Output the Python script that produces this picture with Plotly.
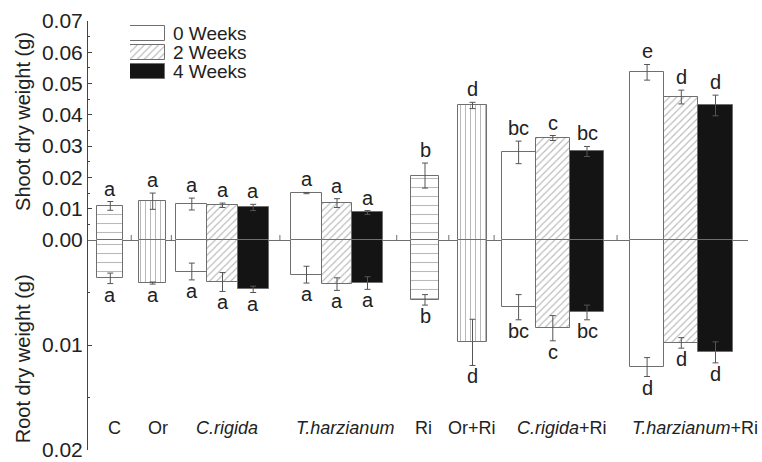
import plotly.graph_objects as go

# ---------------- data ----------------
groups = ["C", "Or", "C.rigida", "T.harzianum", "Ri", "Or+Ri", "C.rigida+Ri", "T.harzianum+Ri"]
group_labels = ["C", "Or", "<i>C.rigida</i>", "<i>T.harzianum</i>", "Ri", "Or+Ri",
                "<i>C.rigida</i>+Ri", "<i>T.harzianum</i>+Ri"]

bar_group = [0, 1, 2, 2, 2, 3, 3, 3, 4, 5, 6, 6, 6, 7, 7, 7]
bar_style = ["h", "v", "0", "2", "4", "0", "2", "4", "h", "v", "0", "2", "4", "0", "2", "4"]

shoot_mean = [0.0109, 0.0124, 0.0115, 0.0111, 0.0104, 0.0150, 0.0118, 0.0088,
              0.0206, 0.0430, 0.0280, 0.0326, 0.0283, 0.0536, 0.0457, 0.0430]
shoot_err = [0.0014, 0.0026, 0.0019, 0.0007, 0.0010, 0.0002, 0.0014, 0.0006,
             0.0040, 0.0010, 0.0036, 0.0008, 0.0016, 0.0025, 0.0022, 0.0033]
shoot_letter = ["a", "a", "a", "a", "a", "a", "a", "a", "b", "d", "bc", "c", "bc", "e", "d", "d"]

root_mean = [0.00365, 0.0041, 0.0030, 0.0040, 0.0047, 0.0033, 0.0042, 0.0041,
             0.0057, 0.00975, 0.0064, 0.0084, 0.0069, 0.0121, 0.0098, 0.0107]
root_err = [0.0005, 0.0001, 0.0008, 0.0009, 0.0003, 0.0008, 0.0006, 0.0006,
            0.0005, 0.0022, 0.0012, 0.0012, 0.0007, 0.0009, 0.0005, 0.0010]
root_letter = ["a", "a", "a", "a", "a", "a", "a", "a", "b", "d", "bc", "c", "bc", "d", "d", "d"]

legend_names = ["0 Weeks", "2 Weeks", "4 Weeks"]
legend_styles = ["0", "2", "4"]

shoot_ticks = [0.00, 0.01, 0.02, 0.03, 0.04, 0.05, 0.06, 0.07]
root_ticks = [0.01, 0.02]

# ---------------- layout constants ----------------
group_center = [22.3, 64.7, 134.5, 249.0, 337.0, 384.5, 464.8, 593.3]
group_bar_width = [26, 27, 30.7, 30.5, 28.6, 28.4, 34.2, 34.2]
label_shift = [4, 5, 4, 8, -2, -1, 9, 14]

FONT = "Liberation Sans, Arial, Helvetica, sans-serif"
EDGE = "#6f6f6f"
HATCH = "#747474"

styles = {
    "h": dict(color="white", pattern=dict(shape="-", fgcolor=HATCH, bgcolor="white", size=9, solidity=0.12)),
    "v": dict(color="white", pattern=dict(shape="|", fgcolor=HATCH, bgcolor="white", size=5, solidity=0.2)),
    "0": dict(color="white"),
    "2": dict(color="white", pattern=dict(shape="/", fgcolor=HATCH, bgcolor="white", size=5, solidity=0.22)),
    "4": dict(color="#141414"),
}

# compute bar positions from group layout
counts = [bar_group.count(g) for g in range(len(groups))]
bar_x, bar_w = [], []
seen = [0] * len(groups)
for g in bar_group:
    n = counts[g]
    w = group_bar_width[g]
    i = seen[g]
    seen[g] += 1
    bar_x.append(group_center[g] + (i - (n - 1) / 2) * w)
    bar_w.append(w)

fig = go.Figure()

for st in ["h", "v", "0", "2", "4"]:
    idx = [k for k, s in enumerate(bar_style) if s == st]
    marker = dict(styles[st])
    marker["line"] = dict(color=EDGE, width=1)
    fig.add_trace(go.Bar(
        x=[bar_x[k] for k in idx], y=[shoot_mean[k] for k in idx],
        width=[bar_w[k] for k in idx], marker=marker,
        error_y=dict(type="data", array=[shoot_err[k] for k in idx], color="#555", thickness=1, width=3),
        xaxis="x", yaxis="y", showlegend=False))
    fig.add_trace(go.Bar(
        x=[bar_x[k] for k in idx], y=[root_mean[k] for k in idx],
        width=[bar_w[k] for k in idx], marker=marker,
        error_y=dict(type="data", array=[root_err[k] for k in idx], color="#555", thickness=1, width=3),
        xaxis="x2", yaxis="y2", showlegend=False))

# legend swatches on an overlay axis
for r, (name, st) in enumerate(zip(legend_names, legend_styles)):
    marker = dict(styles[st])
    marker["line"] = dict(color=EDGE, width=1)
    fig.add_trace(go.Bar(x=[1], y=[r], orientation="h", width=0.74, marker=marker,
                         xaxis="x3", yaxis="y3", showlegend=False))

annotations = []
for k in range(len(bar_x)):
    annotations.append(dict(x=bar_x[k], y=shoot_mean[k] + shoot_err[k], xref="x", yref="y",
                            text=shoot_letter[k], showarrow=False, yanchor="bottom", yshift=0,
                            font=dict(size=20, family=FONT, color="#222")))
    annotations.append(dict(x=bar_x[k], y=root_mean[k] + root_err[k], xref="x2", yref="y2",
                            text=root_letter[k], showarrow=False, yanchor="top", yshift=2,
                            font=dict(size=20, family=FONT, color="#222")))

for g, lab in enumerate(group_labels):
    annotations.append(dict(x=group_center[g], y=0.051, xref="x2", yref="paper", text=lab,
                            showarrow=False, xanchor="center", yanchor="middle", xshift=label_shift[g],
                            font=dict(size=18, family=FONT, color="#222")))

for r, name in enumerate(legend_names):
    annotations.append(dict(x=0.0, y=r, xref="x3 domain", yref="y3", text=name, showarrow=False,
                            xanchor="left", yanchor="middle", xshift=41,
                            font=dict(size=19, family=FONT, color="#222")))

annotations.append(dict(x=-0.0985, y=0.767, xref="paper", yref="paper", text="Shoot dry weight (g)",
                        textangle=-90, showarrow=False, xanchor="center", yanchor="middle",
                        font=dict(size=20, family=FONT, color="#222")))
annotations.append(dict(x=-0.0985, y=0.2137, xref="paper", yref="paper", text="Root dry weight (g)",
                        textangle=-90, showarrow=False, xanchor="center", yanchor="middle",
                        font=dict(size=20, family=FONT, color="#222")))

# separators on the zero line (midpoints between neighbouring groups)
shapes = []
for g in range(len(groups) - 1):
    right = max(bar_x[k] + bar_w[k] / 2 for k in range(len(bar_x)) if bar_group[k] == g)
    left = min(bar_x[k] - bar_w[k] / 2 for k in range(len(bar_x)) if bar_group[k] == g + 1)
    sx = (right + left) / 2
    shapes.append(dict(type="line", xref="x", yref="y", x0=sx, x1=sx, ysizemode="pixel",
                       yanchor=0, y0=-5, y1=5, line=dict(color=EDGE, width=1)))

split = 210 / 429

fig.update_layout(
    width=762, height=462,
    margin=dict(l=88, r=14, t=21, b=12, autoexpand=False),
    paper_bgcolor="white", plot_bgcolor="rgba(0,0,0,0)",
    barmode="overlay", bargap=0,
    font=dict(family=FONT, color="#222"),
    xaxis=dict(domain=[0, 1], range=[0, 660], anchor="y", showticklabels=False, ticks="",
               showgrid=False, zeroline=False, showline=True, linecolor=EDGE, linewidth=1,
               automargin=False),
    xaxis2=dict(domain=[0, 1], range=[0, 660], anchor="y2", matches="x", showticklabels=False,
                ticks="", showgrid=False, zeroline=False, showline=False, automargin=False),
    yaxis=dict(domain=[split, 1], range=[0, 0.07], anchor="x", tickvals=shoot_ticks,
               ticktext=[f"{v:.2f}" for v in shoot_ticks], ticks="inside", ticklen=4,
               tickcolor="#444", showline=True, linecolor="#444", linewidth=1, showgrid=False,
               zeroline=False, tickfont=dict(size=21, family=FONT, color="#222"), automargin=False,
               minor=dict(dtick=0.005, tick0=0, ticks="inside", ticklen=2, tickcolor="#444")),
    yaxis2=dict(domain=[0, split], range=[0.02, 0], anchor="x2", tickvals=root_ticks,
                ticktext=[f"{v:.2f}" for v in root_ticks], ticks="inside", ticklen=4,
                tickcolor="#444", showline=True, linecolor="#444", linewidth=1, showgrid=False,
                zeroline=False, tickfont=dict(size=21, family=FONT, color="#222"), automargin=False,
                minor=dict(dtick=0.005, tick0=0, ticks="inside", ticklen=2, tickcolor="#444")),
    xaxis3=dict(domain=[(130 - 88) / 660, (165 - 88) / 660], range=[0, 1], anchor="y3",
                visible=False, fixedrange=True),
    yaxis3=dict(domain=[(450 - 81) / 429, (450 - 24) / 429], range=[2.5, -0.5], anchor="x3",
                visible=False, fixedrange=True),
    annotations=annotations,
    shapes=shapes,
)

fig.write_html("out.html")
